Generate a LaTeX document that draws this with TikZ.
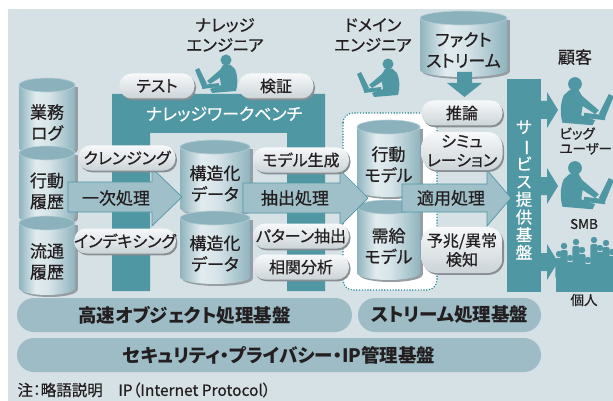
\documentclass[tikz,border=0pt]{standalone}
\usepackage{fontspec}
\setmainfont{Noto Sans CJK JP}[RawFeature=+palt, FakeBold=0.6, BoldFeatures={FakeBold=0}]
\usepackage{graphicx}
\usetikzlibrary{shadows}

\definecolor{bgblue}{RGB}{214,225,230}
\definecolor{wbteal}{RGB}{80,151,164}
\definecolor{dotteal}{RGB}{40,135,150}
\definecolor{arrowblue}{RGB}{159,192,200}
\definecolor{barblue}{RGB}{157,188,197}
\definecolor{cylside}{RGB}{143,180,190}
\definecolor{cyllight}{RGB}{226,236,239}
\definecolor{cyltop}{RGB}{139,178,188}
\definecolor{cylshadow}{RGB}{150,158,163}
\definecolor{pilltop}{RGB}{247,249,250}
\definecolor{pillbot}{RGB}{204,212,216}
\definecolor{pillshadow}{RGB}{135,143,148}
\definecolor{ink}{RGB}{35,31,32}

\pgfdeclarehorizontalshading{cylbody}{100bp}{color(0bp)=(cylside); color(25bp)=(cylside); color(40bp)=(cyllight); color(52bp)=(cyllight!85!cylside); color(75bp)=(cylside); color(100bp)=(cylside)}

\tikzset{
    pill/.style={rounded corners=12pt, top color=pilltop, bottom color=pillbot, minimum height=25pt, inner sep=0pt, align=center, text=ink, font=\fontsize{16}{19}\selectfont, drop shadow={shadow xshift=1.5pt, shadow yshift=-1.8pt, fill=pillshadow, opacity=1}},
    bigarrow/.style={fill=arrowblue, draw=wbteal, line width=0.7pt},
    arrowtext/.style={text=ink, font=\fontsize{17}{19}\selectfont},
    cyltext/.style={text=ink, align=center, font=\fontsize{17}{21}\selectfont},
    bar/.style={fill=barblue, rounded corners=17pt, minimum height=34pt, inner sep=0pt, text=ink, font=\fontsize{18.5}{20}\selectfont\bfseries},
    headtext/.style={text=ink, align=center, font=\fontsize{16.5}{20}\selectfont},
    custtext/.style={text=ink, font=\fontsize{13.5}{15}\selectfont},
    notetext/.style={text=ink, font=\fontsize{15.5}{17}\selectfont},
    dotbox/.style={draw=dotteal, fill=white, line width=1.6pt, dash pattern=on 0pt off 2.8pt, line cap=round, rounded corners=10pt},
    wbtext/.style={text=white, font=\fontsize{17}{19}\selectfont},
    bandtext/.style={text=white, align=center, inner sep=0pt, font=\fontsize{16.5}{17.7}\selectfont},
    worker/.pic={
        \fill[wbteal] (0,0) circle (5.5);
        \fill[wbteal] (-3,5) -- (4,4.5) -- (9,9) .. controls (12,16) and (12,24) .. (10,31) -- (-14,33) -- (-16,29) -- (-5,25) -- (-7,12) -- cycle;
        \fill[wbteal] (-5,9) -- (-19,21) -- (-16,24) -- (-2,15) -- cycle;
        \fill[wbteal] (-31,10) -- (-27,8) -- (-19,24) -- (-24,27) -- cycle;
        \fill[wbteal] (-24,25) -- (-7,23) -- (-7,27) -- (-24,29) -- cycle;
    }
}

% #1 name, #2 left, #3 right, #4 top, #5 bottom, #6 text
\newcommand{\datacyl}[6]{%
    \pgfmathsetmacro\cylmid{(#2+#3)/2}
    \pgfmathsetmacro\cylrad{(#3-#2)/2}
    \fill[cylshadow] (#2+2.5,#4+2) rectangle (#3+2.5,#5+2);
    \fill[cylshadow] (\cylmid+2.5,#5+2) ellipse [x radius=\cylrad, y radius=7];
    \shade[shading=cylbody] (#2,#4) rectangle (#3,#5);
    \shade[shading=cylbody] (\cylmid,#5) ellipse [x radius=\cylrad, y radius=7];
    \fill[cyltop, draw=cyllight!50!cyltop, line width=0.6pt] (\cylmid,#4) ellipse [x radius=\cylrad, y radius=7];
    \node[cyltext] (#1) at (\cylmid,{(#4+#5)/2+6}) {#6};
}

\begin{document}
\begin{tikzpicture}[x=1pt, y=-1pt]
    \useasboundingbox (0,0) rectangle (613,401);
    \fill[bgblue] (8,9) rectangle (613,401);

    % workbench frame
    \fill[wbteal] (112,291) -- (112,94) -- (325,94) -- (325,291) -- (287,291) -- (287,133) -- (150,133) -- (150,291) -- cycle;
    \node[wbtext] (bench) at (224,114) {ナレッジワークベンチ};

    \draw[dotbox] (343,113) rectangle (437,290);

    \pic at (226,60) {worker};
    \pic at (388,64) {worker};

    \fill[wbteal] (507,79) rectangle (541,292);
    \node[bandtext] (service) at (524,190) {サ\\\rotatebox[origin=c]{-90}{ー}\\ビ\\ス\\提\\供\\基\\盤};

    \datacyl{gyomu}{19}{75}{85}{148}{業務\\ログ}
    \datacyl{kodo}{19}{75}{153}{217}{行動\\履歴}
    \datacyl{ryutsu}{19}{75}{223}{288}{流通\\履歴}
    \datacyl{struct1}{180}{250}{147}{208}{構造化\\データ}
    \datacyl{struct2}{180}{250}{218}{277}{構造化\\データ}
    \datacyl{actmodel}{357}{420}{127}{190}{行動\\モデル}
    \datacyl{supmodel}{357}{420}{207}{273}{需給\\モデル}
    \datacyl{fact}{420}{507}{18}{70}{ファクト\\ストリーム}

    \draw[bigarrow] (68,182) -- (152,182) -- (152,168) -- (182,197) -- (152,226) -- (152,212) -- (68,212) -- cycle;
    \node[arrowtext] (primary) at (116,198) {一次処理};
    \draw[bigarrow] (243,183) -- (340,183) -- (340,170) -- (368,198) -- (340,226) -- (340,213) -- (243,213) -- cycle;
    \node[arrowtext] (extract) at (295,198) {抽出処理};
    \draw[bigarrow] (402,184) -- (487,184) -- (487,170) -- (511,198) -- (487,226) -- (487,212) -- (402,212) -- cycle;
    \node[arrowtext] (apply) at (451,198) {適用処理};

    \fill[wbteal] (457,72) -- (472,72) -- (472,83) -- (482,83) -- (464.5,97) -- (447,83) -- (457,83) -- cycle;

    \node[pill, minimum width=75pt] (test) at (157,86) {テスト};
    \node[pill, minimum width=75pt] (verify) at (276,86) {検証};
    \node[pill, minimum width=97pt] (cleanse) at (127,158) {クレンジング};
    \node[pill, minimum width=100pt] (index) at (125,241) {インデキシング};
    \node[pill, minimum width=96pt] (modelgen) at (301,160) {モデル生成};
    \node[pill, minimum width=96pt] (pattern) at (301,236) {パターン抽出};
    \node[pill, minimum width=96pt] (correl) at (301,267) {相関分析};
    \node[pill, minimum width=81pt] (infer) at (462,113) {推論};
    \node[pill, minimum width=81pt, minimum height=38pt, rounded corners=15pt] (simul) at (462,151) {シミュ\\レーション};
    \node[pill, minimum width=81pt, minimum height=46pt, rounded corners=15pt] (detect) at (462,250) {予兆/異常\\検知};

    % customers
    \foreach \cy in {110,186,262}
        \fill[wbteal] (541,\cy-9) -- (547,\cy-9) -- (547,\cy-18) -- (558,\cy) -- (547,\cy+18) -- (547,\cy+9) -- (541,\cy+9) -- cycle;
    \pic[xscale=-1, scale=1.25] at (575,84) {worker};
    \pic[xscale=-1, scale=1.25] at (575,168) {worker};
    \foreach \px/\ph in {559/38, 564/46, 570/34, 576/50, 582/42, 588/32, 594/52, 600/44, 606/49, 612/40} {
        \fill[wbteal] (\px,292-\ph) circle (3.2);
        \fill[wbteal, rounded corners=2pt] (\px-3.6,{292-\ph+4}) rectangle (\px+3.6,{292-0.35*\ph});
        \fill[wbteal] (\px-3,{292-0.4*\ph}) rectangle (\px-0.4,292);
        \fill[wbteal] (\px+0.4,{292-0.4*\ph}) rectangle (\px+3,292);
    }
    \node[headtext, font=\fontsize{17}{20}\selectfont] (customer) at (575,57) {顧客};
    \node[custtext, anchor=west, align=left] (biguser) at (556,141) {ビッグ\\ユーザー};
    \node[custtext] (smb) at (584,224) {SMB};
    \node[custtext] (person) at (584,300) {個人};

    \node[headtext] (kneng) at (225,35) {ナレッジ\\エンジニア};
    \node[headtext] (dmeng) at (373,35) {ドメイン\\エンジニア};

    \node[bar, minimum width=335pt] (objbase) at (184.5,315) {高速オブジェクト処理基盤};
    \node[bar, minimum width=183pt] (streambase) at (449.5,315) {ストリーム処理基盤};
    \node[bar, minimum width=524pt] (secbase) at (279,355) {セキュリティ・プライバシー・IP管理基盤};

    \node[notetext, anchor=west] (abbr) at (14,390) {注：略語説明　IP（Internet Protocol）};
\end{tikzpicture}
\end{document}
